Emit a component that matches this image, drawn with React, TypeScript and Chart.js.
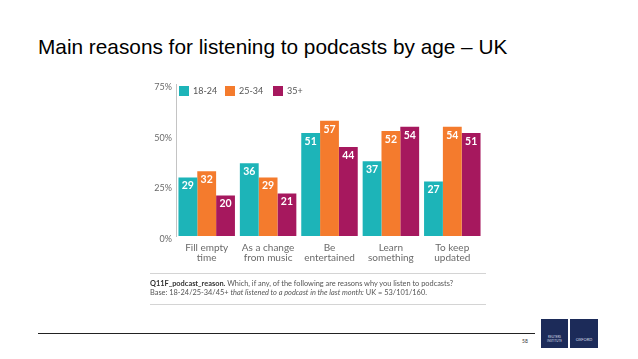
import React, { useEffect, useRef } from "react";
import { Chart, registerables } from "chart.js";
Chart.register(...registerables);

const categories = [
  ["Fill empty", "time"],
  ["As a change", "from music"],
  ["Be", "entertained"],
  ["Learn", "something"],
  ["To keep", "updated"],
];
const seriesNames = ["18-24", "25-34", "35+"];
const values1824 = [29, 36, 51, 37, 27];
const values2534 = [32, 29, 57, 52, 54];
const values35plus = [20, 21, 44, 54, 51];
const yMin = 0;
const yMax = 75;
const yStep = 25;
const colors = ["#1db4b8", "#f47b2d", "#a6185e"];

const valueLabels = {
  id: "valueLabels",
  afterDatasetsDraw(chart: any) {
    const ctx = chart.ctx;
    ctx.save();
    ctx.fillStyle = "#ffffff";
    ctx.font = "bold 10.5px Lato, sans-serif";
    ctx.textAlign = "center";
    ctx.textBaseline = "middle";
    chart.data.datasets.forEach((ds: any, i: number) => {
      chart.getDatasetMeta(i).data.forEach((bar: any, j: number) => {
        ctx.fillText(String(ds.data[j]), bar.x, bar.y + 8.5);
      });
    });
    ctx.restore();
  },
};

function ChartBox() {
  const ref = useRef<HTMLCanvasElement | null>(null);
  useEffect(() => {
    if (!ref.current) return;
    const seriesValues = [values1824, values2534, values35plus];
    const chart = new Chart(ref.current, {
      type: "bar",
      data: {
        labels: categories as any,
        datasets: seriesNames.map((name, i) => ({
          label: name,
          data: seriesValues[i],
          backgroundColor: colors[i],
          borderWidth: 0,
          barPercentage: 1,
          categoryPercentage: 0.92,
        })),
      },
      options: {
        animation: false,
        responsive: false,
        maintainAspectRatio: false,
        devicePixelRatio: 1,
        layout: { padding: { top: 9, right: 17, left: 0, bottom: 0 } },
        plugins: { legend: { display: false }, tooltip: { enabled: false }, title: { display: false } },
        scales: {
          x: {
            grid: { display: false },
            border: { display: false },
            ticks: {
              color: "#6a6a6a",
              font: { family: "Lato, sans-serif", size: 10, lineHeight: 0.95 },
              padding: -0.5,
              maxRotation: 0,
              autoSkip: false,
            },
            afterFit(s: any) {
              s.height = 39;
            },
          },
          y: {
            min: yMin,
            max: yMax,
            ticks: {
              stepSize: yStep,
              callback: (v: any) => v + "%",
              color: "#6a6a6a",
              font: { family: "Lato, sans-serif", size: 9 },
              padding: 4,
              labelOffset: 3,
            },
            grid: { display: false, drawTicks: false },
            border: { display: true, color: "#c4c4c4", width: 1 },
            afterFit(s: any) {
              s.width = 46;
            },
          },
        },
      },
      plugins: [valueLabels],
    });
    return () => chart.destroy();
  }, []);
  return (
    <canvas
      ref={ref}
      width={370}
      height={200}
      style={{ position: "absolute", left: 130, top: 75, width: 370, height: 200 }}
    />
  );
}

export default function App() {
  const legendX = [179, 225, 273];
  return (
    <div
      style={{
        position: "fixed",
        left: 0,
        top: 0,
        width: 638,
        height: 359,
        background: "#fff",
        overflow: "hidden",
        fontFamily: "Lato, sans-serif",
      }}
    >
      <div
        style={{
          position: "absolute",
          left: 38,
          top: 35,
          fontFamily: "'Liberation Sans', Arial, sans-serif",
          fontSize: 20.8,
          lineHeight: "24px",
          color: "#000",
          whiteSpace: "nowrap",
        }}
      >
        Main reasons for listening to podcasts by age – UK
      </div>
      <ChartBox />
      {seriesNames.map((n, i) => (
        <React.Fragment key={n}>
          <div
            style={{
              position: "absolute",
              left: legendX[i],
              top: 86,
              width: 10,
              height: 10,
              background: colors[i],
            }}
          />
          <div
            style={{
              position: "absolute",
              left: legendX[i] + 14,
              top: 85,
              fontSize: 9,
              lineHeight: "12px",
              color: "#555",
              whiteSpace: "nowrap",
            }}
          >
            {n}
          </div>
        </React.Fragment>
      ))}
      <div style={{ position: "absolute", left: 150, top: 273, width: 336, height: 1, background: "#d4d4d4" }} />
      <div
        style={{
          position: "absolute",
          left: 150,
          top: 280,
          fontSize: 7.4,
          lineHeight: "8.5px",
          color: "#555",
          whiteSpace: "nowrap",
        }}
      >
        <div>
          <b style={{ color: "#333" }}>Q11F_podcast_reason.</b> Which, if any, of the following are reasons why you listen to podcasts?
        </div>
        <div>
          Base: 18-24/25-34/45+ <i>that listened to a podcast in the last month:</i> UK = 53/101/160.
        </div>
      </div>
      <div style={{ position: "absolute", left: 150, top: 304, width: 336, height: 1, background: "#d4d4d4" }} />
      <div style={{ position: "absolute", left: 38, top: 333, width: 497, height: 1, background: "#222" }} />
      <div style={{ position: "absolute", left: 522, top: 338, fontSize: 5, color: "#333" }}>58</div>
      <div
        style={{
          position: "absolute",
          left: 541,
          top: 319,
          width: 27,
          height: 29,
          background: "#1c2b59",
          color: "#d8dce6",
          fontSize: 3,
          textAlign: "center",
          lineHeight: "4px",
          paddingTop: 16,
          boxSizing: "border-box",
        }}
      >
        REUTERS INSTITUTE
      </div>
      <div
        style={{
          position: "absolute",
          left: 570,
          top: 319,
          width: 28,
          height: 29,
          background: "#1c2b59",
          color: "#d8dce6",
          fontSize: 4,
          textAlign: "center",
          lineHeight: "5px",
          paddingTop: 18,
          boxSizing: "border-box",
        }}
      >
        OXFORD
      </div>
    </div>
  );
}
